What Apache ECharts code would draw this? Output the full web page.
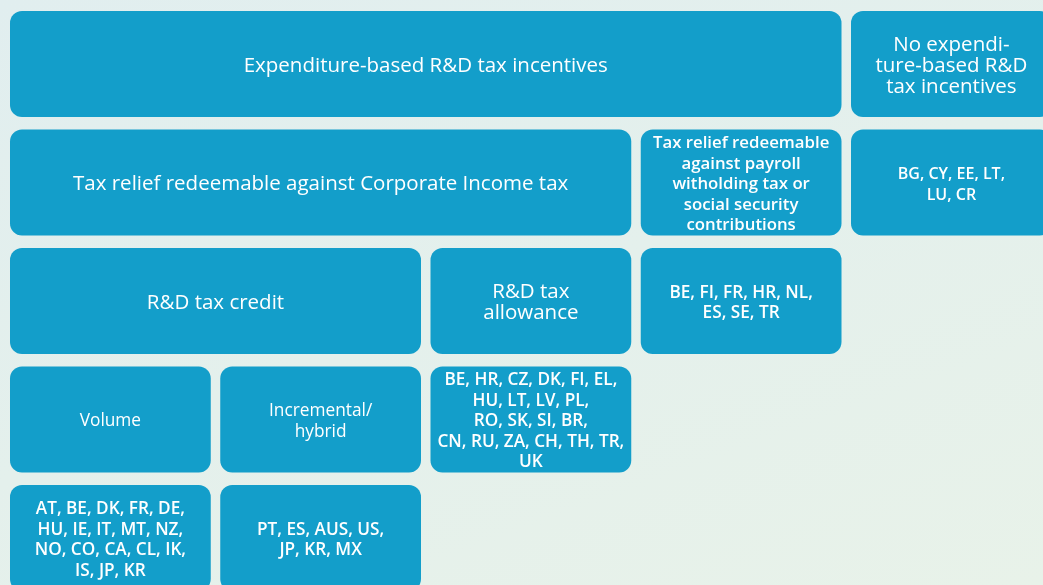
<!DOCTYPE html>
<html>
<head>
<meta charset="utf-8">
<script src="https://cdn.jsdelivr.net/npm/echarts@6/dist/echarts.min.js"></script>
<style>
html,body{margin:0;padding:0;overflow:hidden;width:1043px;height:585px;}
body{background:linear-gradient(160deg,#e1eeef 0%,#e4f0ec 50%,#e8f2e9 100%);}
#chart{width:1070px;height:610px;}
</style>
</head>
<body>
<div id="chart"></div>
<script>
// Box labels (text as it appears, with line breaks)
const boxLabels = [
  'Expenditure-based R&D tax incentives',
  'No expendi-\nture-based R&D\ntax incentives',
  'Tax relief redeemable against Corporate Income tax',
  'Tax relief redeemable\nagainst payroll\nwitholding tax or\nsocial security\ncontributions',
  'BG, CY, EE, LT,\nLU, CR',
  'R&D tax credit',
  'R&D tax\nallowance',
  'BE, FI, FR, HR, NL,\nES, SE, TR',
  'Volume',
  'Incremental/\nhybrid',
  'BE, HR, CZ, DK, FI, EL,\nHU, LT, LV, PL,\nRO, SK, SI, BR,\nCN, RU, ZA, CH, TH, TR,\nUK',
  'AT, BE, DK, FR, DE,\nHU, IE, IT, MT, NZ,\nNO, CO, CA, CL, IK,\nIS, JP, KR',
  'PT, ES, AUS, US,\nJP, KR, MX'
];
// Grid cell spans: start column, end column, row (level in the tree)
const colStart = [0, 4, 0, 3, 4, 0, 2, 3, 0, 1, 2, 0, 1];
const colEnd   = [4, 5, 3, 4, 5, 2, 3, 4, 1, 2, 3, 1, 2];
const rowIndex = [0, 0, 1, 1, 1, 2, 2, 2, 3, 3, 3, 4, 4];
// Kind of box: heading / sub (category) / note / list (countries)
const boxKind  = ['heading','heading','heading','note','listSmall','heading','heading','list','sub','sub','list','list','list'];

const data = boxLabels.map((t, i) => [colStart[i], colEnd[i], rowIndex[i], i]);

const kindStyle = {
  heading:   { fontSize: 20.5, fontWeight: 400, lineHeight: 21 },
  sub:       { fontSize: 17.3, fontWeight: 400, lineHeight: 20.5 },
  note:      { fontSize: 16.8, fontWeight: 600, lineHeight: 20.5 },
  list:      { fontSize: 17.2, fontWeight: 600, lineHeight: 20.5 },
  listSmall: { fontSize: 16, fontWeight: 600, lineHeight: 21 }
};

const chart = echarts.init(document.getElementById('chart'), null, { renderer: 'canvas' });
chart.setOption({
  backgroundColor: 'transparent',
  animation: false,
  grid: { left: 10, top: 11, width: 1051.25, height: 592.5, containLabel: false },
  xAxis: { type: 'value', min: 0, max: 5, show: false },
  yAxis: { type: 'value', min: 0, max: 5, inverse: true, show: false },
  series: [{
    type: 'custom',
    clip: false,
    data: data,
    encode: { x: [0, 1], y: 2 },
    renderItem: function (params, api) {
      const s = api.value(0), e = api.value(1), r = api.value(2), idx = api.value(3);
      const p0 = api.coord([s, r]);
      const p1 = api.coord([e, r + 1]);
      const gapX = 9.5, gapY = 12.5;
      const x = p0[0], y = p0[1];
      const w = p1[0] - p0[0] - gapX;
      const h = p1[1] - p0[1] - gapY;
      const st = kindStyle[boxKind[idx]];
      return {
        type: 'group',
        children: [
          { type: 'rect', shape: { x: x, y: y, width: w, height: h, r: 12 },
            style: { fill: '#139eca' } },
          { type: 'text',
            style: {
              text: boxLabels[idx], x: x + w / 2, y: y + h / 2 + 2,
              align: 'center', verticalAlign: 'middle',
              fill: '#ffffff', fontFamily: '"Open Sans", "Noto Sans", sans-serif',
              fontSize: st.fontSize, fontWeight: st.fontWeight, lineHeight: st.lineHeight
            } }
        ]
      };
    }
  }]
});
</script>
</body>
</html>
